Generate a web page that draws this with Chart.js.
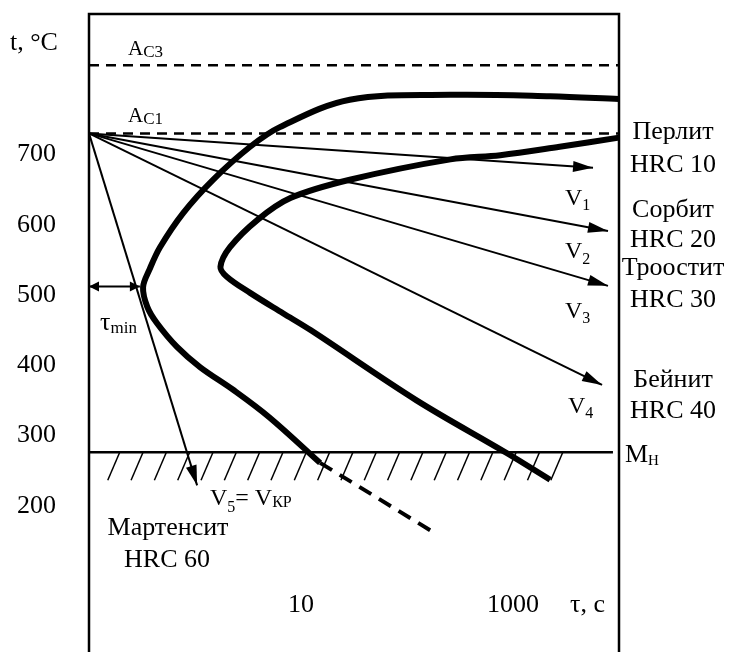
<!DOCTYPE html>
<html>
<head>
<meta charset="utf-8">
<script src="https://cdn.jsdelivr.net/npm/chart.js@4.4.0/dist/chart.umd.min.js"></script>
<style>
  html, body { margin: 0; padding: 0; background: #fff; }
  canvas { display: block; }
</style>
</head>
<body>
<canvas id="ttt" width="735" height="652"></canvas>
<script>
// ось X - lg(τ), ось Y - температура, °C
const timeTicks = [1, 3];
const timeTickLabels = ['10', '1000'];
const tempTicks = [200, 300, 400, 500, 600, 700];

const tAc3 = 827;
const tAc1 = 730;
const tMn = 276;

// линия начала превращения
const startCurve = [[4.0, 779], [3.35, 783], [2.41, 785], [1.46, 778], [0.80, 739], [0.52, 711],
  [0.17, 664], [-0.11, 617], [-0.33, 568], [-0.43, 536], [-0.49, 511], [-0.45, 483], [-0.36, 460],
  [-0.17, 426], [0.05, 397], [0.36, 365], [0.70, 326], [1.18, 261]];
const startCurveTail = [[1.18, 261], [2.22, 165]];
// линия конца превращения
const endCurve = [[4.0, 724], [3.44, 711], [2.88, 699], [2.41, 693], [1.46, 664], [0.90, 638],
  [0.59, 607], [0.33, 568], [0.24, 540], [0.30, 526], [0.52, 503], [0.83, 474], [1.09, 450],
  [2.09, 350], [2.94, 275], [3.35, 237]];

// скорости охлаждения
const coolStart = [-1, 730];
const coolEnds = [[3.755, 681], [3.896, 591], [3.896, 513], [3.84, 372], [0.02, 229]];
const tauMin = [[-1, 512], [-0.52, 512]];

// штриховка под Мн
const hatchFrom = -0.71;
const hatchStep = 0.22;
const hatchCount = 20;

const phases = ['Перлит', 'Сорбит', 'Троостит', 'Бейнит'];
const hardness = ['HRC 10', 'HRC 20', 'HRC 30', 'HRC 40'];

const FONT = "'Liberation Serif', 'Times New Roman', serif";
const pts = arr => arr.map(p => ({ x: p[0], y: p[1] }));

function lineDs(data, width, dash) {
  return {
    data: pts(data),
    showLine: true,
    borderColor: '#000',
    borderWidth: width,
    borderDash: dash || [],
    pointRadius: 0,
    tension: 0,
    clip: false
  };
}

const datasets = [
  lineDs([[-1, tAc3], [4, tAc3]], 2.5, [10, 7]),
  lineDs([[-1, tAc1], [4, tAc1]], 2.5, [10, 7]),
  lineDs([[-1, tMn], [3.943, tMn]], 2.5),
  Object.assign(lineDs(startCurve, 6), { tension: 0.35 }),
  lineDs(startCurveTail, 4, [14, 9]),
  Object.assign(lineDs(endCurve, 6), { tension: 0.35 }),
  lineDs(tauMin, 2)
];
const firstCool = datasets.length;
coolEnds.forEach(e => datasets.push(lineDs([coolStart, e], 2)));

function arrowHead(ctx, from, to, len, half) {
  const a = Math.atan2(to.y - from.y, to.x - from.x);
  const bx = to.x - len * Math.cos(a), by = to.y - len * Math.sin(a);
  ctx.beginPath();
  ctx.moveTo(to.x, to.y);
  ctx.lineTo(bx + half * Math.sin(a), by - half * Math.cos(a));
  ctx.lineTo(bx - half * Math.sin(a), by + half * Math.cos(a));
  ctx.closePath();
  ctx.fill();
}

// текст с индексами: [текст, размер, сдвиг вниз]
function runText(ctx, x, y, parts) {
  parts.forEach(p => {
    ctx.font = p[1] + 'px ' + FONT;
    ctx.fillText(p[0], x, y + (p[2] || 0));
    x += ctx.measureText(p[0]).width;
  });
}

const extras = {
  id: 'extras',
  beforeDatasetsDraw(chart) {
    const { ctx, chartArea: a, scales: { x, y } } = chart;
    ctx.save();
    ctx.strokeStyle = '#000';
    ctx.lineWidth = 2.5;
    ctx.beginPath();
    ctx.moveTo(a.left, chart.height);
    ctx.lineTo(a.left, a.top);
    ctx.lineTo(a.right, a.top);
    ctx.lineTo(a.right, chart.height);
    ctx.stroke();

    ctx.lineWidth = 1.5;
    const yMn = y.getPixelForValue(tMn);
    for (let i = 0; i < hatchCount; i++) {
      const px = x.getPixelForValue(hatchFrom + i * hatchStep);
      ctx.beginPath();
      ctx.moveTo(px, yMn);
      ctx.lineTo(px - 12, yMn + 28);
      ctx.stroke();
    }
    ctx.restore();
  },
  afterDatasetsDraw(chart) {
    const { ctx } = chart;
    ctx.save();
    ctx.fillStyle = '#000';

    for (let i = firstCool; i < chart.data.datasets.length; i++) {
      const d = chart.getDatasetMeta(i).data;
      arrowHead(ctx, d[0], d[1], 20, 5.5);
    }
    const tm = chart.getDatasetMeta(6).data;
    arrowHead(ctx, tm[1], tm[0], 10, 5);
    arrowHead(ctx, tm[0], tm[1], 10, 5);

    ctx.textBaseline = 'alphabetic';
    ctx.textAlign = 'left';
    runText(ctx, 10, 50, [['t, °C', 26]]);
    runText(ctx, 128, 55, [['A', 21], ['C3', 17, 2]]);
    runText(ctx, 128, 122, [['A', 21], ['C1', 17, 2]]);
    runText(ctx, 565, 205, [['V', 24], ['1', 16, 5]]);
    runText(ctx, 565, 258, [['V', 24], ['2', 16, 6]]);
    runText(ctx, 565, 318, [['V', 24], ['3', 16, 5]]);
    runText(ctx, 568, 413, [['V', 24], ['4', 16, 5]]);
    runText(ctx, 210, 505, [['V', 24], ['5', 16, 7], ['= V', 24], ['КР', 16, 2]]);
    runText(ctx, 100, 330, [['τ', 26], ['min', 17, 3]]);
    runText(ctx, 625, 462, [['M', 26], ['Н', 15, 3]]);
    runText(ctx, 570, 612, [['τ, с', 26]]);

    ctx.textAlign = 'center';
    ctx.font = '26px ' + FONT;
    ctx.fillText('Мартенсит', 168, 535);
    ctx.fillText('HRC 60', 167, 567);
    const nameY = [139, 217, 275, 387];
    const hrcY = [172, 247, 307, 418];
    phases.forEach((p, i) => {
      ctx.fillText(p, 673, nameY[i]);
      ctx.fillText(hardness[i], 673, hrcY[i]);
    });
    ctx.restore();
  }
};

new Chart(document.getElementById('ttt'), {
  type: 'scatter',
  data: { datasets },
  options: {
    responsive: false,
    animation: false,
    devicePixelRatio: 1,
    layout: { padding: { top: 14, right: 116, left: 0, bottom: 0 } },
    plugins: { legend: { display: false }, tooltip: { enabled: false } },
    scales: {
      x: {
        type: 'linear',
        min: -1,
        max: 4,
        grid: { display: false },
        border: { display: false },
        afterBuildTicks: s => { s.ticks = timeTicks.map(v => ({ value: v })); },
        afterFit: s => { s.height = 62; s.paddingLeft = 0; s.paddingRight = 0; },
        ticks: {
          autoSkip: false,
          maxRotation: 0,
          padding: -8,
          color: '#000',
          font: { family: FONT, size: 26 },
          callback: v => timeTickLabels[timeTicks.indexOf(v)]
        }
      },
      y: {
        type: 'linear',
        min: 80,
        max: 900,
        grid: { display: false },
        border: { display: false },
        afterBuildTicks: s => { s.ticks = tempTicks.map(v => ({ value: v })); },
        afterFit: s => { s.width = 89; s.paddingTop = 0; s.paddingBottom = 0; },
        ticks: {
          padding: 25,
          color: '#000',
          font: { family: FONT, size: 26 }
        }
      }
    }
  },
  plugins: [extras]
});
</script>
</body>
</html>
